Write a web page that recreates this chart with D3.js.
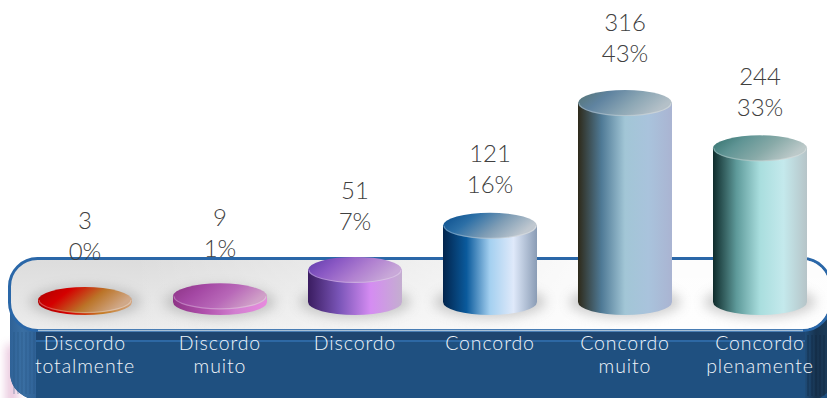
<!DOCTYPE html>
<html>
<head>
<meta charset="utf-8">
<script src="https://cdn.jsdelivr.net/npm/d3@7"></script>
<style>
  html, body { margin: 0; padding: 0; background: #fff; }
  svg { display: block; }
  text { font-family: Lato, "Open Sans", sans-serif; font-weight: 300; text-anchor: middle; }
</style>
</head>
<body>
<svg id="chart" width="827" height="398"></svg>
<script>
// Survey responses by agreement level
const categories = ["Discordo totalmente", "Discordo muito", "Discordo", "Concordo", "Concordo muito", "Concordo plenamente"];
const categoryLines = [["Discordo", "totalmente"], ["Discordo", "muito"], ["Discordo"], ["Concordo"], ["Concordo", "muito"], ["Concordo", "plenamente"]];
const counts = [3, 9, 51, 121, 316, 244];
const percents = ["0%", "1%", "7%", "16%", "43%", "33%"];

// Horizontal shading of each cylinder wall and lid
const wallColors = [
  ["#a80000", "#d60000", "#c47a22", "#d2a27c"],
  ["#8e3486", "#b050ac", "#d27fd0", "#e88ade"],
  ["#3a1c60", "#7a55b8", "#d58cf2", "#c4aed0"],
  ["#02244c", "#0a5a9c", "#a4d0f0", "#dfe9fa", "#8a9cb5"],
  ["#2e2a1a", "#4f7a96", "#a2c6d6", "#a9c3dc", "#aab4d2"],
  ["#0f2b2b", "#5e9a9a", "#a9dede", "#c4e9ec", "#b6c4c8"]
];
const lidColors = [
  ["#a80000", "#d40000", "#bb7428", "#d0a888"],
  ["#8a3282", "#a448a4", "#b868b8", "#d0a0c8"],
  ["#5c3aa8", "#8a58c4", "#b080d0", "#c8a8d8"],
  ["#064a8a", "#2c6fa6", "#7f9db5", "#c0c8d0"],
  ["#55736f", "#5f83a0", "#8ba6b4", "#b4c0c8"],
  ["#2f6e6a", "#5f9494", "#88aaa8", "#bcc9c9"]
];
// Extra lift of each value label above its lid
const labelLift = [2, 1, 2, -5, 3, -6];

const svg = d3.select("#chart");
const defs = svg.append("defs");

const x = d3.scalePoint().domain(categories).range([85, 760]);
const y = d3.scaleLinear().domain([0, 316]).range([302, 103]);
const rx = 47, ry = 13;

function addGradient(id, colors, x2, y2) {
  const g = defs.append("linearGradient").attr("id", id)
    .attr("x1", 0).attr("y1", 0).attr("x2", x2).attr("y2", y2);
  const pos = d3.scaleLinear().domain([0, colors.length - 1]).range([0, 100]);
  colors.forEach((c, i) => g.append("stop").attr("offset", pos(i) + "%").attr("stop-color", c));
}
wallColors.forEach((c, i) => addGradient("wall" + i, c, 1, 0));
lidColors.forEach((c, i) => addGradient("lid" + i, c, 1, 0.35));
addGradient("deck", ["#dcdcdc", "#ececec"], 0, 1);
addGradient("sideLeft", ["#2f6297", "#3a6fa3", "#2f6297"], 1, 0);
addGradient("sideRight", ["#1f4c78", "#17334f", "#1a3a58"], 1, 0);

const sheen = defs.append("linearGradient").attr("id", "sheen");
sheen.append("stop").attr("offset", "15%").attr("stop-color", "#fff").attr("stop-opacity", 0);
sheen.append("stop").attr("offset", "75%").attr("stop-color", "#fff").attr("stop-opacity", 0.95);

defs.append("filter").attr("id", "soft").attr("x", "-30%").attr("y", "-60%").attr("width", "160%").attr("height", "220%")
  .append("feGaussianBlur").attr("stdDeviation", 6);
defs.append("filter").attr("id", "glow").attr("x", "-150%").attr("y", "-20%").attr("width", "400%").attr("height", "140%")
  .append("feGaussianBlur").attr("stdDeviation", 5);

// Pink glow beside the platform
svg.append("rect").attr("x", 6).attr("y", 345).attr("width", 12).attr("height", 70)
  .attr("fill", "#c76fa8").attr("opacity", 0.4).attr("filter", "url(#glow)");

// Platform front face
svg.append("path").attr("fill", "#1f5080")
  .attr("d", "M10,300 L827,300 L827,398 L28,398 Q10,390 10,372 Z");
svg.append("path").attr("fill", "url(#sideLeft)")
  .attr("d", "M10,300 L36,300 L36,398 L28,398 Q10,390 10,372 Z");
svg.append("path").attr("fill", "url(#sideRight)")
  .attr("d", "M805,320 L827,320 L827,393 L820,398 L805,398 Z");
d3.range(14, 36, 4).forEach(v => svg.append("line").attr("x1", v).attr("x2", v)
  .attr("y1", 332).attr("y2", 394).attr("stroke", "#234f7e").attr("stroke-opacity", 0.45));
d3.range(808, 826, 4).forEach(v => svg.append("line").attr("x1", v).attr("x2", v)
  .attr("y1", 335).attr("y2", 396).attr("stroke", "#0e2238").attr("stroke-opacity", 0.5));
svg.append("rect").attr("x", 36).attr("y", 330).attr("width", 769).attr("height", 10).attr("fill", "#1e4570");
svg.append("rect").attr("x", 36).attr("y", 340).attr("width", 769).attr("height", 2).attr("fill", "#2d68a4");

// Platform deck
const deckBox = { x: 9.5, y: 258.5, width: 821, height: 72, rx: 28 };
svg.append("rect").attr("x", deckBox.x).attr("y", deckBox.y).attr("width", deckBox.width).attr("height", deckBox.height).attr("rx", deckBox.rx)
  .attr("fill", "url(#deck)").attr("stroke", "#2a67a8").attr("stroke-width", 3);
svg.append("rect").attr("x", deckBox.x + 1.5).attr("y", deckBox.y + 1.5).attr("width", deckBox.width - 3).attr("height", deckBox.height - 3).attr("rx", deckBox.rx - 1.5)
  .attr("fill", "url(#sheen)");
svg.append("path").attr("d", "M38,330.5 L803,330.5").attr("stroke", "#a6bfd6").attr("stroke-width", 1.5);

const bars = svg.append("g").selectAll("g").data(categories).join("g");

// Contact shadow under each cylinder
bars.append("ellipse")
  .attr("cx", d => x(d)).attr("cy", 302)
  .attr("rx", rx + 9).attr("ry", ry + 3)
  .attr("fill", "#8f8f8f").attr("opacity", 0.42).attr("filter", "url(#soft)");

// Cylinder wall
bars.append("path")
  .attr("fill", (d, i) => `url(#wall${i})`)
  .attr("d", (d, i) => {
    const cx = x(d), top = y(counts[i]), base = y(0);
    return `M${cx - rx},${top} L${cx - rx},${base} A${rx},${ry} 0 0 0 ${cx + rx},${base} L${cx + rx},${top} Z`;
  });

// Cylinder lid with its pale lower rim
bars.append("ellipse")
  .attr("cx", d => x(d)).attr("cy", (d, i) => y(counts[i]))
  .attr("rx", rx).attr("ry", ry)
  .attr("fill", (d, i) => `url(#lid${i})`);
bars.append("path")
  .attr("fill", "none").attr("stroke", "#ffffff").attr("stroke-opacity", 0.28).attr("stroke-width", 1.2)
  .attr("d", (d, i) => {
    const cx = x(d), top = y(counts[i]);
    return `M${cx - rx + 1},${top} A${rx - 1},${ry - 0.5} 0 0 0 ${cx + rx - 1},${top}`;
  });

// Count and share above each cylinder
const labels = bars.append("g")
  .attr("transform", (d, i) => `translate(${x(d)},${y(counts[i]) - ry - labelLift[i]})`)
  .attr("fill", "#404040").style("font-size", "24px");
labels.append("text").attr("y", -56).text((d, i) => counts[i]);
labels.append("text").attr("y", -25).text((d, i) => percents[i]);

// Category names on the front face
bars.append("g").selectAll("text")
  .data((d, i) => categoryLines[i].map((t, k) => ({ t, k, cx: x(d) })))
  .join("text")
  .attr("x", d => d.cx).attr("y", d => 350 + d.k * 23)
  .attr("fill", "#f0f5fa").style("font-size", "19.5px").style("letter-spacing", "0.9px")
  .text(d => d.t);
</script>
</body>
</html>
